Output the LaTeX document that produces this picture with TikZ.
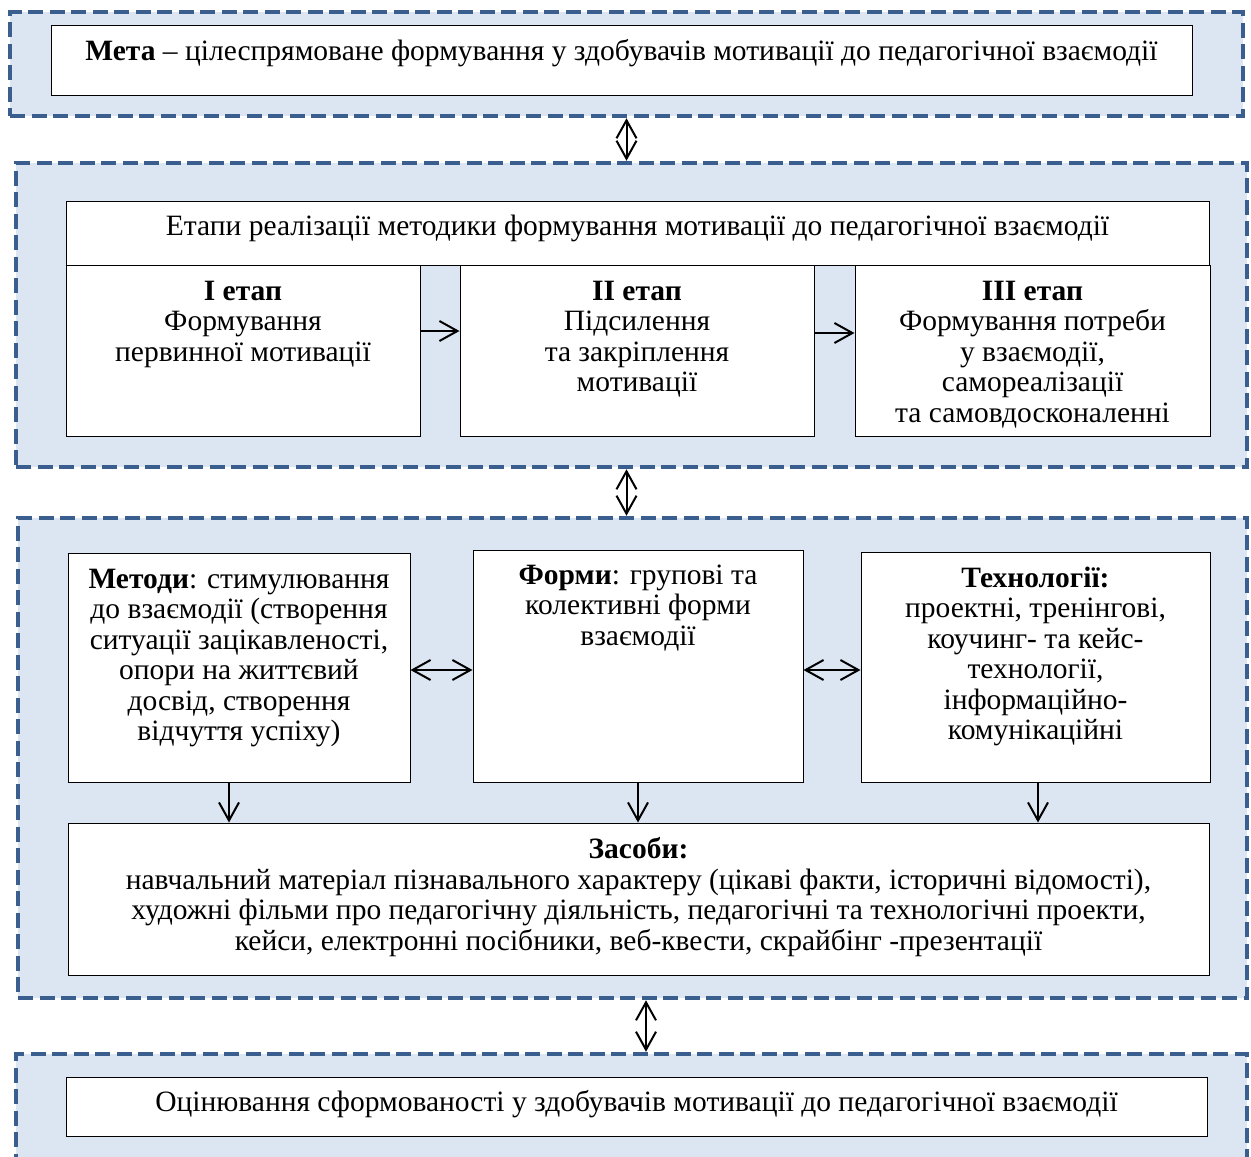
\documentclass[tikz,border=0pt]{standalone}
\usepackage{fontspec}
\setmainfont{Liberation Serif}
\usetikzlibrary{arrows.meta}
\definecolor{frameblue}{HTML}{3A5F8E}
\definecolor{fillblue}{HTML}{DCE6F2}

\begin{document}
\begin{tikzpicture}[x=1pt, y=-1pt,
    frame/.style={draw=frameblue, fill=fillblue, line width=4.5pt, dash pattern=on 15pt off 6.5pt, inner sep=0},
    box/.style={draw, fill=white, line width=1pt, inner sep=0},
    txt/.style={anchor=north, align=center, inner sep=0, font=\fontsize{29.5}{30.5}\selectfont},
    link/.style={-{Straight Barb[length=18pt, width=20pt]}, line width=2pt},
    dlink/.style={{Straight Barb[length=18pt, width=20pt]}-{Straight Barb[length=18pt, width=20pt]}, line width=2pt}]
    \useasboundingbox (0,0) rectangle (1251,1157);

    % Dashed frames
    \node[frame, minimum width=1233pt, minimum height=104pt] (goalframe) at (626.5,64) {};
    \node[frame, minimum width=1231pt, minimum height=304pt] (stageframe) at (631.5,315) {};
    \node[frame, minimum width=1229pt, minimum height=480pt] (toolframe) at (632.5,758) {};
    \node[frame, minimum width=1231pt, minimum height=126pt] (evalframe) at (631.5,1117) {};

    % Goal
    \node[box, minimum width=1141pt, minimum height=70pt] (goal) at (621.5,60) {};
    \node[txt] (goaltext) at ([yshift=-15pt]goal.north) {\textbf{Мета} – цілеспрямоване формування у здобувачів мотивації до педагогічної взаємодії};

    % Stages
    \node[box, minimum width=1143pt, minimum height=64pt] (stagehead) at (637.5,233) {};
    \node[txt] (stageheadtext) at ([yshift=-14pt]stagehead.north) {Етапи реалізації методики формування мотивації до педагогічної взаємодії};
    \node[box, minimum width=354pt, minimum height=171pt] (stage1) at (243,350.5) {};
    \node[box, minimum width=354pt, minimum height=171pt] (stage2) at (637,350.5) {};
    \node[box, minimum width=355pt, minimum height=171pt] (stage3) at (1032.5,350.5) {};
    \node[txt] (stage1text) at ([yshift=-16pt]stage1.north) {\textbf{І етап}\\Формування\\первинної мотивації};
    \node[txt] (stage2text) at ([yshift=-16pt]stage2.north) {\textbf{ІІ етап}\\Підсилення\\та закріплення\\мотивації};
    \node[txt] (stage3text) at ([yshift=-16pt]stage3.north) {\textbf{ІІІ етап}\\Формування потреби\\у взаємодії,\\самореалізації\\та самовдосконаленні};
    \draw[link] ([yshift=19.5pt]stage1.east) -- ([yshift=19.5pt]stage2.west);
    \draw[link] ([yshift=17.5pt]stage2.east) -- ([yshift=17.5pt]stage3.west);

    % Methods, forms, technologies
    \node[box, minimum width=342pt, minimum height=229pt] (methods) at (239,667.5) {};
    \node[box, minimum width=330pt, minimum height=232pt] (forms) at (638,666) {};
    \node[box, minimum width=349pt, minimum height=230pt] (techs) at (1035.5,667) {};
    \node[txt] (methodstext) at ([yshift=-16pt]methods.north) {\textbf{Методи}: стимулювання\\до взаємодії (створення\\ситуації зацікавленості,\\опори на життєвий\\досвід, створення\\відчуття успіху)};
    \node[txt] (formstext) at ([yshift=-15pt]forms.north) {\textbf{Форми}: групові та\\колективні форми\\взаємодії};
    \node[txt] (techstext) at ([yshift=-15pt]techs.north) {\textbf{Технології:}\\проектні, тренінгові,\\коучинг- та кейс-\\технології,\\інформаційно-\\комунікаційні};
    \draw[dlink] (methods.east |- 0,670) -- (forms.west |- 0,670);
    \draw[dlink] (forms.east |- 0,670) -- (techs.west |- 0,670);

    % Means
    \node[box, minimum width=1141pt, minimum height=152pt] (means) at (638.5,899) {};
    \node[txt] (meanstext) at ([yshift=-15pt]means.north) {\textbf{Засоби:}\\навчальний матеріал пізнавального характеру (цікаві факти, історичні відомості),\\художні фільми про педагогічну діяльність, педагогічні та технологічні проекти,\\кейси, електронні посібники, веб-квести, скрайбінг -презентації};
    \draw[link] ([xshift=-10pt]methods.south) -- ([xshift=-10pt]methods.south |- means.north);
    \draw[link] (forms.south) -- (forms.south |- means.north);
    \draw[link] ([xshift=2.5pt]techs.south) -- ([xshift=2.5pt]techs.south |- means.north);

    % Evaluation
    \node[box, minimum width=1141pt, minimum height=59pt] (eval) at (636.5,1106.5) {};
    \node[txt] (evaltext) at ([yshift=-14pt]eval.north) {Оцінювання сформованості у здобувачів мотивації до педагогічної взаємодії};

    % Links between frames
    \draw[dlink] (goalframe.south) -- (goalframe.south |- stageframe.north);
    \draw[dlink] (goalframe.south |- stageframe.south) -- (goalframe.south |- toolframe.north);
    \draw[dlink] ([xshift=13.5pt]toolframe.south) -- ([xshift=13.5pt]toolframe.south |- evalframe.north);
\end{tikzpicture}
\end{document}
